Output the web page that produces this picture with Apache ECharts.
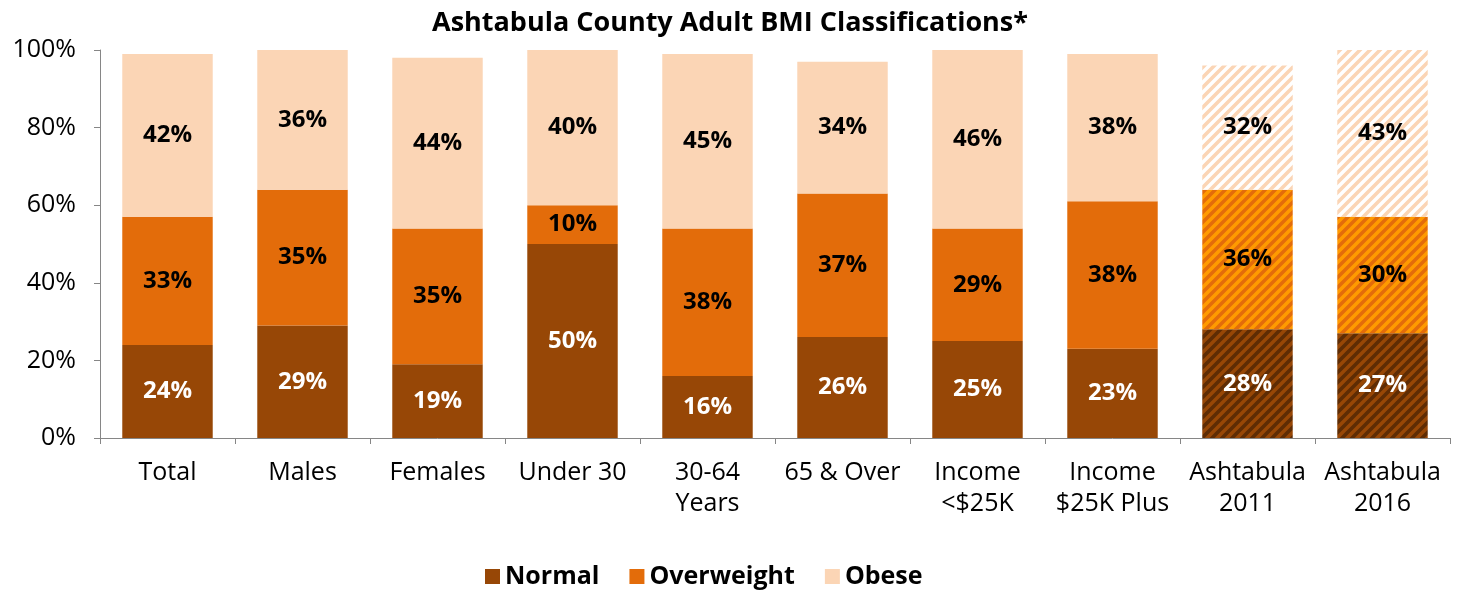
<!DOCTYPE html>
<html>
<head>
<meta charset="utf-8">
<script src="https://cdn.jsdelivr.net/npm/echarts@6/dist/echarts.min.js"></script>
<style>html,body{margin:0;padding:0;background:#fff;}#c{width:1460px;height:590px;}</style>
</head>
<body>
<div id="c"></div>
<script>
var categories = ['Total','Males','Females','Under 30','30-64\nYears','65 & Over','Income\n<$25K','Income\n$25K Plus','Ashtabula\n2011','Ashtabula\n2016'];
var normal = [24,29,19,50,16,26,25,23,28,27];
var overweight = [33,35,35,10,38,37,29,38,36,30];
var obese = [42,36,44,40,45,34,46,38,32,43];
var hatched = [false,false,false,false,false,false,false,false,true,true];
var yTicks = [0,20,40,60,80,100];

var FONT = '"Open Sans", "Noto Sans", sans-serif';
var colors = {normal:'#974706', overweight:'#E36C0A', obese:'#FBD5B5'};
var stripe = {normal:'#5E2C04', overweight:'#FF9A00', obese:'#FBD5B5'};
var hatchBase = {normal:'#974706', overweight:'#E36C0A', obese:'#FFFFFF'};

function makePattern(bg, fg){
  var s = 10;
  var cv = document.createElement('canvas');
  cv.width = s; cv.height = s;
  var ctx = cv.getContext('2d');
  ctx.fillStyle = bg; ctx.fillRect(0,0,s,s);
  ctx.strokeStyle = fg; ctx.lineWidth = 3.6; ctx.lineCap = 'square';
  ctx.beginPath();
  ctx.moveTo(-2, s+2); ctx.lineTo(s+2, -2);
  ctx.moveTo(-2-s, s+2); ctx.lineTo(2, -2);
  ctx.moveTo(s-2, s+2); ctx.lineTo(2*s+2, -2);
  ctx.stroke();
  return {image: cv, repeat: 'repeat'};
}

function buildData(vals, key){
  return vals.map(function(v,i){
    if (hatched[i]) return {value: v, itemStyle: {color: makePattern(hatchBase[key], stripe[key])}};
    return v;
  });
}

function makeSeries(name, key, vals, labelColor){
  return {
    name: name, type: 'bar', stack: 'bmi', barCategoryGap: '33%',
    data: buildData(vals, key),
    itemStyle: {color: colors[key]},
    label: {show: true, position: 'inside', formatter: '{c}%', color: labelColor,
      fontFamily: FONT, fontWeight: 'bold', fontSize: 24},
    emphasis: {disabled: true}
  };
}

var chart = echarts.init(document.getElementById('c'));
chart.setOption({
  animation: false,
  title: {text: 'Ashtabula County Adult BMI Classifications*', left: 'center', top: 5,
    textStyle: {fontFamily: FONT, fontWeight: 'bold', fontSize: 27, color: '#000'}},
  legend: {bottom: -4, left: 480, itemWidth: 15, itemHeight: 15, itemGap: 30,
    icon: 'rect', textStyle: {fontFamily: FONT, fontWeight: 'bold', fontSize: 25, color: '#000'},
    data: ['Normal','Overweight','Obese']},
  grid: {left: 100, right: 10, top: 50, bottom: 152, containLabel: false},
  xAxis: {type: 'category', data: categories,
    axisLine: {lineStyle: {color: '#868686', width: 1}},
    axisTick: {show: true, length: 6, alignWithLabel: false, lineStyle: {color: '#868686'}},
    axisLabel: {fontFamily: FONT, fontSize: 25, color: '#000', margin: 19, lineHeight: 31, interval: 0}},
  yAxis: {type: 'value', min: 0, max: 100, interval: 20,
    axisLine: {show: true, lineStyle: {color: '#868686'}},
    axisTick: {show: true, length: 6, lineStyle: {color: '#868686'}},
    splitLine: {show: false},
    axisLabel: {fontFamily: FONT, fontSize: 25, color: '#000', margin: 24,
      formatter: function(v){ return yTicks.indexOf(v) >= 0 ? v + '%' : ''; }}},
  series: [
    makeSeries('Normal', 'normal', normal, '#FFFFFF'),
    makeSeries('Overweight', 'overweight', overweight, '#000000'),
    makeSeries('Obese', 'obese', obese, '#000000')
  ]
});
</script>
</body>
</html>
